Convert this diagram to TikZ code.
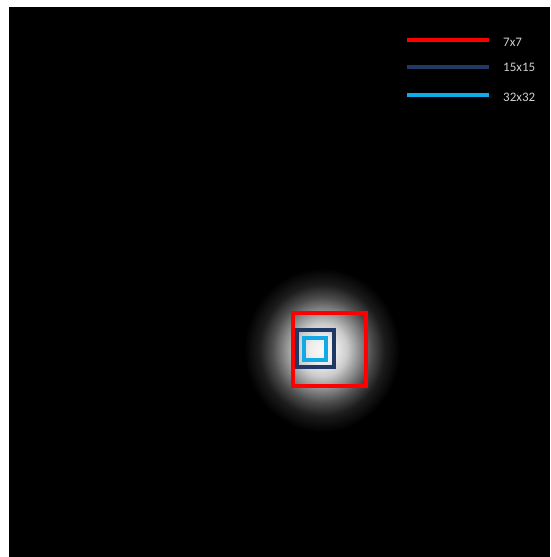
\documentclass[tikz,border=0pt]{standalone}
\usepackage{fontspec}
\setmainfont{Carlito}
\definecolor{boxred}{HTML}{FF0000}
\definecolor{boxnavy}{HTML}{203864}
\definecolor{boxsky}{HTML}{12AAE6}
\definecolor{legtext}{HTML}{CFCFCF}
\pgfdeclareradialshading{glow}{\pgfpoint{0bp}{0bp}}{%
 color(0bp)=(white!97!black);
 color(4bp)=(white!93!black);
 color(8bp)=(white!80!black);
 color(12bp)=(white!55!black);
 color(16bp)=(white!30!black);
 color(20bp)=(white!11!black);
 color(25bp)=(black);
 color(50bp)=(black)}
\tikzset{
 sq/.style={draw, line width=4pt, fill=none, inner sep=0pt, minimum size=#1},
 legline/.style={line width=4.5pt},
 legtxt/.style={text=legtext, font=\fontsize{13}{15}\selectfont, anchor=west, inner sep=0pt}
}
\begin{document}
\begin{tikzpicture}[x=1pt,y=-1pt]
\useasboundingbox (0,0) rectangle (550,557);
\fill[white] (0,0) rectangle (550,557);
\fill[black] (9,7) rectangle (550,557);
\shade[shading=glow] (322,350) ellipse [x radius=78, y radius=82];
% squares
\node[sq=73pt, draw=boxred] (red) at (329.5,349) {};
\node[sq=37pt, draw=boxnavy] (navy) at (315.5,348.5) {};
\node[sq=22pt, draw=boxsky] (sky) at (315,348.5) {};
% legend
\coordinate (r1) at (407,40); \coordinate (r2) at (489,40);
\coordinate (n1) at (407,67); \coordinate (n2) at (489,67);
\coordinate (s1) at (407,95); \coordinate (s2) at (489,95);
\draw[legline, boxred] (r1) -- (r2);
\draw[legline, boxnavy] (n1) -- (n2);
\draw[legline, boxsky] (s1) -- (s2);
\node[legtxt] (t1) at (503,42) {7x7};
\node[legtxt] (t2) at (503,67) {15x15};
\node[legtxt] (t3) at (503,97.5) {32x32};
\end{tikzpicture}
\end{document}
